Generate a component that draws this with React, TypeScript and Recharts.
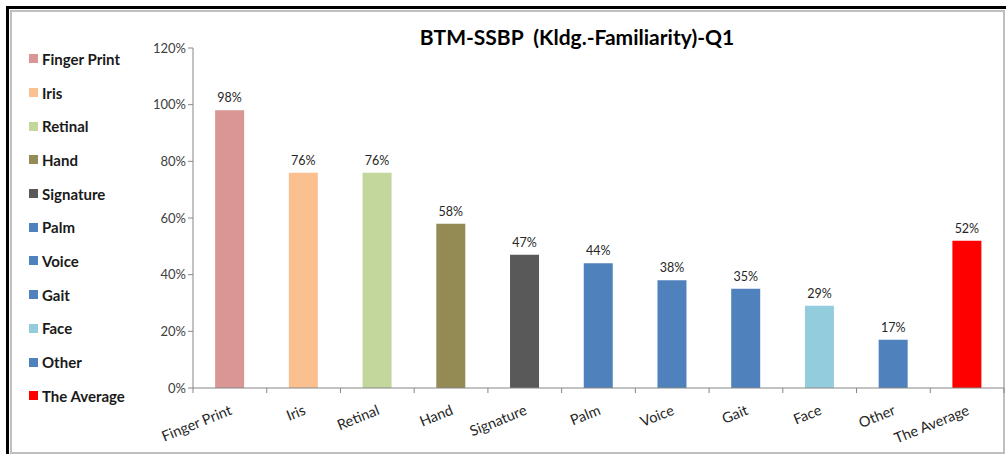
import React from "react";
import { BarChart, Bar, XAxis, YAxis, Cell, LabelList } from "recharts";

const categories = [
  "Finger Print",
  "Iris",
  "Retinal",
  "Hand",
  "Signature",
  "Palm",
  "Voice",
  "Gait",
  "Face",
  "Other",
  "The Average",
];
const familiarity = [0.98, 0.76, 0.76, 0.58, 0.47, 0.44, 0.38, 0.35, 0.29, 0.17, 0.52];
const barColors = [
  "#D99694",
  "#FAC090",
  "#C3D69B",
  "#948A54",
  "#595959",
  "#4F81BD",
  "#4F81BD",
  "#4F81BD",
  "#93CDDD",
  "#4F81BD",
  "#FF0000",
];
const yTicks = [0, 0.2, 0.4, 0.6, 0.8, 1.0, 1.2];

const FONT = "Lato, 'Open Sans', sans-serif";
const AXIS_GRAY = "#868686";

const pct = (v: number) => `${Math.round(v * 100)}%`;

// tick label rotated like excel's, with a tick mark on the category boundary
function CategoryTick(props: any) {
  const { x, y, payload, width, visibleTicksCount } = props;
  const band = width / visibleTicksCount;
  const left = x - band / 2;
  const isLast = payload.index === visibleTicksCount - 1;
  const tx = x + 3;
  const ty = y + 18;
  return (
    <g>
      <line x1={left} y1={y - 8} x2={left} y2={y - 3} stroke={AXIS_GRAY} />
      {isLast && (
        <line x1={left + band} y1={y - 8} x2={left + band} y2={y - 3} stroke={AXIS_GRAY} />
      )}
      <text
        x={tx}
        y={ty}
        textAnchor="end"
        fontSize={14.5}
        fontFamily={FONT}
        fill="#262626"
        transform={`rotate(-22, ${tx}, ${ty})`}
      >
        {payload.value}
      </text>
    </g>
  );
}

function SideLegend() {
  return (
    <div style={{ position: "absolute", left: 29, top: 42 }}>
      {categories.map((c, i) => (
        <div
          key={c}
          style={{
            display: "flex",
            alignItems: "center",
            height: 33.7,
            fontFamily: FONT,
            fontWeight: 700,
            fontSize: 15,
            color: "#1a1a1a",
          }}
        >
          <span
            style={{
              display: "inline-block",
              width: 9,
              height: 9,
              background: barColors[i],
              marginRight: 4,
            }}
          />
          {c}
        </div>
      ))}
    </div>
  );
}

export default function App() {
  const data = categories.map((name, i) => ({ name, value: familiarity[i] }));
  return (
    <div
      style={{
        position: "absolute",
        left: 0,
        top: 0,
        width: 1006,
        height: 454,
        background: "#fff",
        overflow: "hidden",
      }}
    >
      <div
        style={{
          position: "absolute",
          left: 6,
          top: 6,
          width: 1010,
          height: 460,
          borderTop: "3px solid #000",
          borderLeft: "3px solid #000",
        }}
      />
      <div
        style={{
          position: "absolute",
          left: 10,
          top: 10,
          width: 991,
          height: 440,
          border: "2px solid #BFBFBF",
        }}
      />
      <div
        style={{
          position: "absolute",
          left: 0,
          top: 24,
          width: 1154,
          textAlign: "center",
          fontFamily: FONT,
          fontWeight: 700,
          fontSize: 21,
          color: "#000",
          whiteSpace: "pre",
        }}
      >
        {"BTM-SSBP  (Kldg.-Familiarity)-Q1"}
      </div>
      <SideLegend />
      <div style={{ position: "absolute", left: 0, top: 0 }}>
        <BarChart
          width={1006}
          height={454}
          data={data}
          margin={{ top: 48, right: 2, left: 133, bottom: 16 }}
          barCategoryGap="30%"
        >
          <XAxis
            dataKey="name"
            interval={0}
            height={50}
            tickLine={false}
            axisLine={{ stroke: AXIS_GRAY }}
            tick={<CategoryTick />}
          />
          <YAxis
            width={60}
            domain={[0, 1.2]}
            ticks={yTicks}
            tickFormatter={pct}
            axisLine={{ stroke: AXIS_GRAY }}
            tickLine={{ stroke: AXIS_GRAY }}
            tickSize={5}
            tick={{ fontSize: 13, fontFamily: FONT, fill: "#404040" }}
          />
          <Bar dataKey="value" isAnimationActive={false}>
            {data.map((d, i) => (
              <Cell key={d.name} fill={barColors[i]} />
            ))}
            <LabelList
              dataKey="value"
              position="top"
              offset={8}
              formatter={(v: any) => pct(Number(v))}
              style={{ fontSize: 12.5, fontFamily: FONT, fill: "#262626" }}
            />
          </Bar>
        </BarChart>
      </div>
    </div>
  );
}
